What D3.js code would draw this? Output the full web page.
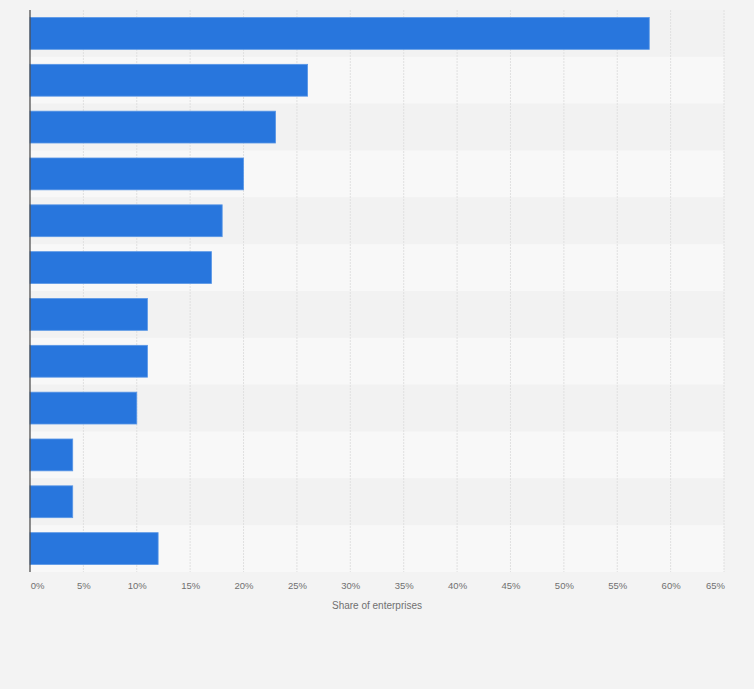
<!DOCTYPE html>
<html>
<head>
<meta charset="utf-8">
<script src="https://cdn.jsdelivr.net/npm/d3@7"></script>
<style>
  html, body { margin: 0; padding: 0; background: #f3f3f3; }
  #chart { width: 754px; height: 689px; }
</style>
</head>
<body>
<div id="chart"></div>
<script>
// bar chart, horizontal, no category labels shown in the source

const categories = ["c1", "c2", "c3", "c4", "c5", "c6", "c7", "c8", "c9", "c10", "c11", "c12"];
const shares = [58, 26, 23, 20, 18, 17, 11, 11, 10, 4, 4, 12];
const xTicks = [0, 5, 10, 15, 20, 25, 30, 35, 40, 45, 50, 55, 60, 65];

const margin = { top: 10, right: 30, bottom: 117, left: 30 };
const width = 754 - margin.left - margin.right;
const height = 689 - margin.top - margin.bottom;

const svg = d3
  .select("#chart")
  .append("svg")
  .attr("width", 754)
  .attr("height", 689)
  .style("font-family", "Arial, 'Liberation Sans', sans-serif")
  .append("g")
  .attr("transform", `translate(${margin.left},${margin.top})`);

const x = d3.scaleLinear().domain([0, 65]).range([0, width]);
const y = d3.scaleBand().domain(categories).range([0, height]).paddingInner(0.32).paddingOuter(0.16);

// alternating row stripes
const rowH = height / categories.length;
svg
  .selectAll("rect.stripe")
  .data(categories)
  .enter()
  .append("rect")
  .attr("class", "stripe")
  .attr("x", 0)
  .attr("y", (d, i) => i * rowH)
  .attr("width", width)
  .attr("height", rowH)
  .attr("fill", (d, i) => (i % 2 === 0 ? "#f2f2f2" : "#f8f8f8"));

// gridlines
svg
  .selectAll("line.grid")
  .data(xTicks.filter((t) => t > 0))
  .enter()
  .append("line")
  .attr("class", "grid")
  .attr("x1", (d) => x(d))
  .attr("x2", (d) => x(d))
  .attr("y1", 0)
  .attr("y2", height)
  .attr("stroke", "#e0e0e0")
  .attr("stroke-width", 1)
  .attr("stroke-dasharray", "2 1");

// bars
svg
  .selectAll("rect.bar")
  .data(shares)
  .enter()
  .append("rect")
  .attr("class", "bar")
  .attr("x", 0)
  .attr("y", (d, i) => y(categories[i]))
  .attr("width", (d) => x(d))
  .attr("height", y.bandwidth())
  .attr("fill", "#2876dd")
  .attr("stroke", "#5a97e6")
  .attr("stroke-width", 0.8);

// left axis line
svg
  .append("line")
  .attr("x1", 0)
  .attr("x2", 0)
  .attr("y1", 0)
  .attr("y2", height)
  .attr("stroke", "#444")
  .attr("stroke-width", 1.2);

// bottom axis labels
const xAxis = svg
  .append("g")
  .attr("transform", `translate(0, ${height})`)
  .call(
    d3
      .axisBottom(x)
      .tickValues(xTicks)
      .tickSize(0)
      .tickPadding(10)
      .tickFormat((v) => v + "%")
  );
xAxis.select(".domain").remove();
xAxis
  .selectAll("text")
  .attr("fill", "#707070")
  .style("font-size", "9.5px")
  .attr("dx", (d) => (d === 0 ? 7 : d === 65 ? -9 : 0));

// axis title
svg
  .append("text")
  .attr("x", x(32.5))
  .attr("y", height + 37)
  .attr("text-anchor", "middle")
  .attr("fill", "#707070")
  .style("font-size", "10px")
  .text("Share of enterprises");
</script>
</body>
</html>
